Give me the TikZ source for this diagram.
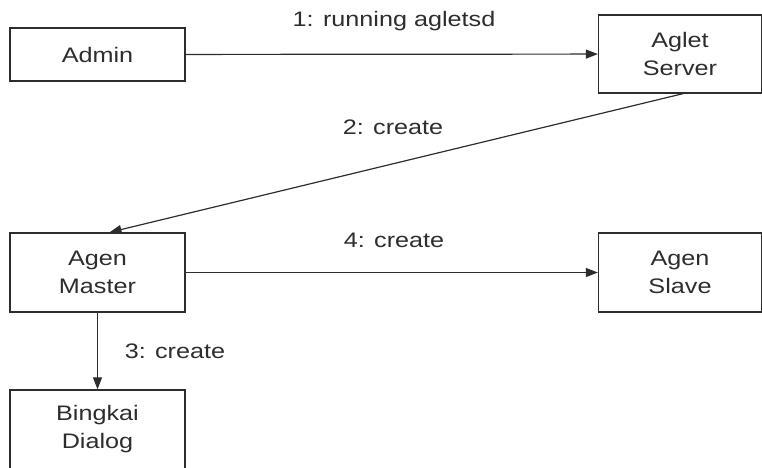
\documentclass[tikz,border=0pt]{standalone}
\usepackage{fontspec}
\newfontfamily\diagfont[FakeStretch=1.2]{Liberation Sans}
\definecolor{umlink}{RGB}{45,45,45}
\usepackage{tikz}
\usetikzlibrary{arrows.meta,positioning,calc}
\tikzset{
  objbox/.style={draw=umlink, line width=1.3pt, fill=white, align=center,
                 font=\diagfont\fontsize{21}{28}\selectfont, text=umlink,
                 minimum width=175pt, minimum height=#1, inner sep=0pt},
  msg/.style={draw=umlink, line width=1.2pt, -{Triangle[length=12pt,width=9pt]}},
  msglbl/.style={font=\diagfont\fontsize{21}{28}\selectfont, text=umlink, inner sep=0pt},
}

\begin{document}
\begin{tikzpicture}[x=1pt, y=-1pt]
\useasboundingbox (0,0) rectangle (762,467);
\clip (0,0) rectangle (762,467);
% Objects
\node[objbox=53pt] (admin) at (97.5,54.5) {Admin};
\node[objbox=78pt, minimum width=163pt] (aglet) at (680,54) {Aglet\\Server};
\node[objbox=79pt] (master) at (97.5,272.5) {Agen\\Master};
\node[objbox=79pt, minimum width=163pt] (slave) at (680,272.5) {Agen\\Slave};
\node[objbox=79pt] (dialog) at (97.5,429.5) {Bingkai\\Dialog};
% Messages
\draw[msg] (admin) -- (aglet);
\draw[msg] ([xshift=3pt]aglet.south) -- ([xshift=12pt]master.north);
\draw[msg] (master) -- (slave);
\draw[msg] (master) -- (dialog);
% Message labels
\node[msglbl] (m1) at (394,21) {1: running agletsd};
\node[msglbl] (m2) at (393,127) {2: create};
\node[msglbl] (m3) at (175,351) {3: create};
\node[msglbl] (m4) at (394,240) {4: create};
\end{tikzpicture}
\end{document}
